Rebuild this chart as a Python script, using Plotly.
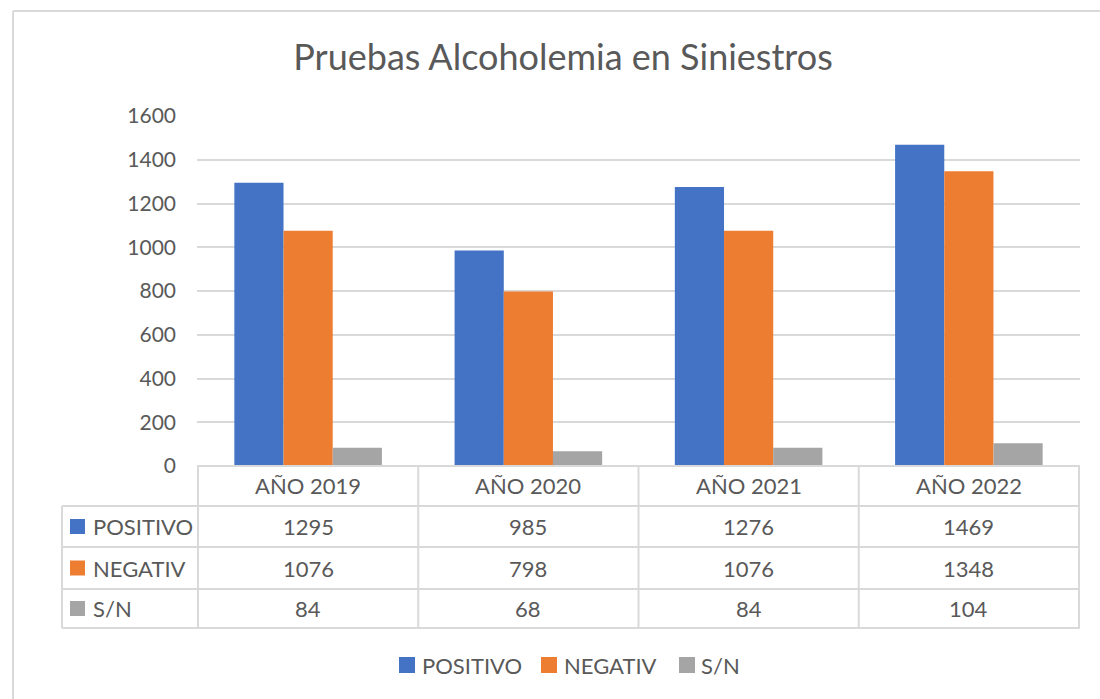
import plotly.graph_objects as go

# Data
years = ["AÑO 2019", "AÑO 2020", "AÑO 2021", "AÑO 2022"]
positivo = [1295, 985, 1276, 1469]
negativo = [1076, 798, 1076, 1348]
sin_dato = [84, 68, 84, 104]
series_names = ["POSITIVO", "NEGATIV", "S/N"]
series_colors = ["#4472C4", "#ED7D31", "#A5A5A5"]
y_ticks = [0, 200, 400, 600, 800, 1000, 1200, 1400, 1600]

W, H = 1100, 699
FONT = "Lato"
TXT = "#595959"
GRID = "#D9D9D9"


def px_x(x):
    return x / W


def px_y(y):
    return 1 - y / H


# Plot-area geometry in pixels
X0, X1 = 197, 1080
Y_TOP, Y_ZERO = 116, 466
ROW_LINES = [466, 506, 547, 589, 628]
LABEL_LEFT = 62

fig = go.Figure()
for name, vals, col in zip(series_names, [positivo, negativo, sin_dato], series_colors):
    fig.add_trace(go.Bar(x=years, y=vals, name=name, showlegend=False,
                         marker=dict(color=col, line=dict(width=0))))

shapes = []
annotations = []
line = dict(color=GRID, width=2)
# Outer chart border (top and left)
shapes.append(dict(type="line", xref="paper", yref="paper", x0=px_x(13), x1=1, y0=px_y(11), y1=px_y(11), line=line))
shapes.append(dict(type="line", xref="paper", yref="paper", x0=px_x(13), x1=px_x(13), y0=px_y(11), y1=0, line=line))

# Data table: horizontal rules
shapes.append(dict(type="line", xref="paper", yref="paper", x0=px_x(X0), x1=px_x(X1),
                   y0=px_y(ROW_LINES[0]), y1=px_y(ROW_LINES[0]), line=line))
for yl in ROW_LINES[1:]:
    shapes.append(dict(type="line", xref="paper", yref="paper", x0=px_x(LABEL_LEFT), x1=px_x(X1),
                       y0=px_y(yl), y1=px_y(yl), line=line))
# Data table: vertical rules at category boundaries
for i in range(len(years) + 1):
    shapes.append(dict(type="line", xref="x", yref="paper", x0=i - 0.5, x1=i - 0.5,
                       y0=px_y(ROW_LINES[0]), y1=px_y(ROW_LINES[-1]), line=line))
shapes.append(dict(type="line", xref="paper", yref="paper", x0=px_x(LABEL_LEFT), x1=px_x(LABEL_LEFT),
                   y0=px_y(ROW_LINES[1]), y1=px_y(ROW_LINES[-1]), line=line))

tfont = dict(family=FONT, size=22, color=TXT)
# Header row
hy = px_y((ROW_LINES[0] + ROW_LINES[1]) / 2)
for yr in years:
    annotations.append(dict(x=yr, xref="x", y=hy, yref="paper", text=yr, showarrow=False,
                            xanchor="center", yanchor="middle", font=tfont))
# Series rows with legend keys
for r, (name, vals, col) in enumerate(zip(series_names, [positivo, negativo, sin_dato], series_colors)):
    cy = (ROW_LINES[r + 1] + ROW_LINES[r + 2]) / 2
    shapes.append(dict(type="rect", xref="paper", yref="paper", x0=px_x(70), x1=px_x(85),
                       y0=px_y(cy + 7.5), y1=px_y(cy - 7.5), fillcolor=col, line=dict(width=0)))
    annotations.append(dict(x=px_x(91), xref="paper", y=px_y(cy), yref="paper", text=name,
                            showarrow=False, xanchor="left", yanchor="middle", font=tfont))
    for yr, v in zip(years, vals):
        annotations.append(dict(x=yr, xref="x", y=px_y(cy), yref="paper", text=str(v),
                                showarrow=False, xanchor="center", yanchor="middle", font=tfont))

# Legend below the table
LEG_Y = 665
legend_items = [(399, 420), (541, 562), (679, 699)]
for (sx, tx), name, col in zip(legend_items, series_names, series_colors):
    shapes.append(dict(type="rect", xref="paper", yref="paper", x0=px_x(sx), x1=px_x(sx + 16),
                       y0=px_y(LEG_Y + 8), y1=px_y(LEG_Y - 8), fillcolor=col, line=dict(width=0)))
    annotations.append(dict(x=px_x(tx), xref="paper", y=px_y(LEG_Y), yref="paper", text=name,
                            showarrow=False, xanchor="left", yanchor="middle", font=tfont))

fig.update_layout(
    width=W, height=H,
    margin=dict(l=0, r=0, t=0, b=0, autoexpand=False),
    paper_bgcolor="white", plot_bgcolor="white",
    barmode="group", bargap=0.33, bargroupgap=0,
    showlegend=False,
    title=dict(text="Pruebas Alcoholemia en Siniestros", x=px_x(563), xanchor="center",
               y=px_y(57), yanchor="middle",
               font=dict(family=FONT, size=36, color=TXT)),
    xaxis=dict(domain=[px_x(X0), px_x(X1)], showticklabels=False, showgrid=False,
               zeroline=False, showline=False, ticks=""),
    yaxis=dict(domain=[px_y(Y_ZERO), px_y(Y_TOP)], range=[0, 1600], tickvals=y_ticks,
               showgrid=True, gridcolor=GRID, gridwidth=2, zeroline=False, showline=False,
               ticklabelstandoff=20, tickfont=dict(family=FONT, size=21, color=TXT)),
    shapes=shapes,
    annotations=annotations,
)

fig.write_html("out.html")
